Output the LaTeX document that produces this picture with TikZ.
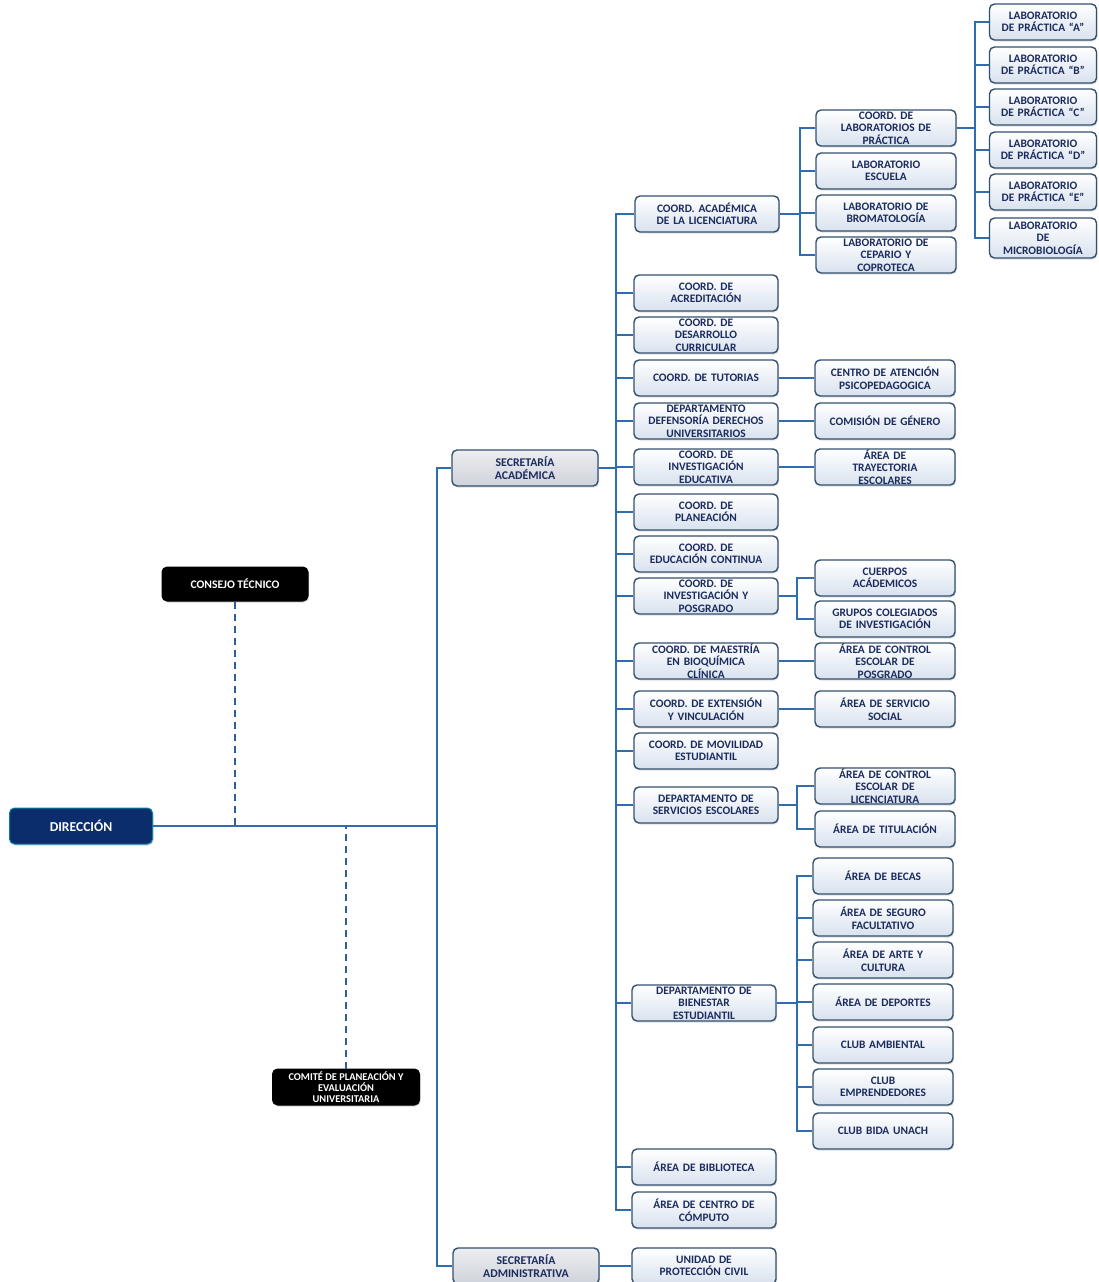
\documentclass[tikz,border=0pt]{standalone}
\usepackage{fontspec}
\setmainfont{Carlito}
\usetikzlibrary{shadows}
\definecolor{connc}{HTML}{2F6DB0}
\definecolor{navy}{HTML}{1B2B5E}
\definecolor{bordc}{HTML}{34506F}
\definecolor{dirc}{HTML}{0B2D6B}
\definecolor{lightb}{HTML}{D8E2EE}
\definecolor{grayf}{HTML}{CFD3DA}
\definecolor{dashc}{HTML}{2E5F98}
\tikzset{
  box/.style={draw=bordc, line width=1.4pt, rounded corners=5pt, top color=white, bottom color=lightb,
    text=navy, font=\fontsize{11.4}{12.5}\selectfont\bfseries, align=center, minimum height=36pt,
    inner xsep=1pt, inner ysep=0.5pt, drop shadow={opacity=0.25,shadow xshift=1pt,shadow yshift=-1.5pt}},
  lvtwo/.style={box, minimum width=144pt, text width=140pt},
  lvthree/.style={box, minimum width=140pt, text width=136pt},
  lvfour/.style={box, minimum width=107pt, text width=104pt},
  secbox/.style={box, top color=white!60!grayf, bottom color=grayf, minimum width=146pt, text width=142pt,
    font=\fontsize{11.8}{12.5}\selectfont\bfseries},
  darkbox/.style={draw=black, line width=1pt, rounded corners=5pt, fill=black, text=white,
    align=center, inner sep=0.5pt,
    drop shadow={opacity=0.3,shadow xshift=1pt,shadow yshift=-1.5pt}},
  dirbox/.style={draw=dirc!60!cyan, line width=1pt, rounded corners=5pt, fill=dirc, text=white,
    font=\fontsize{13.6}{15}\selectfont\bfseries, align=center, minimum width=143pt, minimum height=36pt,
    drop shadow={opacity=0.3,shadow xshift=1pt,shadow yshift=-1.5pt}},
  conn/.style={draw=connc, line width=2pt},
  dline/.style={draw=dashc, line width=2.5pt, dash pattern=on 7pt off 5pt}
}
\begin{document}
\begin{tikzpicture}[x=1pt,y=-1pt]
\useasboundingbox (0,0) rectangle (1099,1282);

% branch coordinates
\coordinate (b0) at (437,0);
\coordinate (b1) at (616,0);
\coordinate (b2) at (800,0);
\coordinate (b3) at (975,0);
\coordinate (b4) at (797,0);

% top level
\node[dirbox] (dir) at (81,826) {DIRECCIÓN};
\node[darkbox, minimum width=146pt, minimum height=34pt, font=\fontsize{11.6}{13}\selectfont\bfseries] (ct) at (235,584) {CONSEJO TÉCNICO};
\node[darkbox, minimum width=147pt, minimum height=36pt, font=\fontsize{10.4}{11}\selectfont\bfseries] (cp) at (346,1087) {COMITÉ DE PLANEACIÓN Y\\EVALUACIÓN\\UNIVERSITARIA};

\node[secbox] (sa) at (525,468) {SECRETARÍA\\ACADÉMICA};
\node[secbox] (sadm) at (526,1266) {SECRETARÍA\\ADMINISTRATIVA};

% level 2
\node[lvtwo] (cal) at (707,214) {COORD. ACADÉMICA\\DE LA LICENCIATURA};
\node[lvtwo] (acr) at (706,293) {COORD. DE\\ACREDITACIÓN};
\node[lvtwo] (des) at (706,335) {COORD. DE\\DESARROLLO\\CURRICULAR};
\node[lvtwo] (tut) at (706,378) {COORD. DE TUTORIAS};
\node[lvtwo] (def) at (706,421) {DEPARTAMENTO\\DEFENSORÍA DERECHOS\\UNIVERSITARIOS};
\node[lvtwo] (ied) at (706,467) {COORD. DE\\INVESTIGACIÓN\\EDUCATIVA};
\node[lvtwo] (pla) at (706,512) {COORD. DE\\PLANEACIÓN};
\node[lvtwo] (edc) at (706,554) {COORD. DE\\EDUCACIÓN CONTINUA};
\node[lvtwo] (ipo) at (706,596) {COORD. DE\\INVESTIGACIÓN Y\\POSGRADO};
\node[lvtwo] (mbc) at (706,661) {COORD. DE MAESTRÍA\\EN BIOQUÍMICA\\CLÍNICA};
\node[lvtwo] (ext) at (706,709) {COORD. DE EXTENSIÓN\\Y VINCULACIÓN};
\node[lvtwo] (mov) at (706,751) {COORD. DE MOVILIDAD\\ESTUDIANTIL};
\node[lvtwo] (dse) at (706,805) {DEPARTAMENTO DE\\SERVICIOS ESCOLARES};
\node[lvtwo] (dbe) at (704,1003) {DEPARTAMENTO DE\\BIENESTAR\\ESTUDIANTIL};
\node[lvtwo] (bib) at (704,1167) {ÁREA DE BIBLIOTECA};
\node[lvtwo] (ccp) at (704,1210) {ÁREA DE CENTRO DE\\CÓMPUTO};
\node[lvtwo] (upc) at (704,1266) {UNIDAD DE\\PROTECCIÓN CIVIL};

% level 3
\node[lvthree] (clp) at (886,128) {COORD. DE\\LABORATORIOS DE\\PRÁCTICA};
\node[lvthree] (lesc) at (886,171) {LABORATORIO\\ESCUELA};
\node[lvthree] (lbro) at (886,213) {LABORATORIO DE\\BROMATOLOGÍA};
\node[lvthree] (lcep) at (886,255) {LABORATORIO DE\\CEPARIO Y\\COPROTECA};
\node[lvthree] (cap) at (885,378) {CENTRO DE ATENCIÓN\\PSICOPEDAGOGICA};
\node[lvthree] (cge) at (885,421) {COMISIÓN DE GÉNERO};
\node[lvthree] (atr) at (885,467) {ÁREA DE\\TRAYECTORIA\\ESCOLARES};
\node[lvthree] (cac) at (885,578) {CUERPOS\\ACÁDEMICOS};
\node[lvthree] (gci) at (885,619) {GRUPOS COLEGIADOS\\DE INVESTIGACIÓN};
\node[lvthree] (acp) at (885,661) {ÁREA DE CONTROL\\ESCOLAR DE\\POSGRADO};
\node[lvthree] (ass) at (885,709) {ÁREA DE SERVICIO\\SOCIAL};
\node[lvthree] (acl) at (885,786) {ÁREA DE CONTROL\\ESCOLAR DE\\LICENCIATURA};
\node[lvthree] (ati) at (885,829) {ÁREA DE TITULACIÓN};
\node[lvthree] (abe) at (883,876) {ÁREA DE BECAS};
\node[lvthree] (asf) at (883,918) {ÁREA DE SEGURO\\FACULTATIVO};
\node[lvthree] (aac) at (883,960) {ÁREA DE ARTE Y\\CULTURA};
\node[lvthree] (ade) at (883,1002) {ÁREA DE DEPORTES};
\node[lvthree] (cam) at (883,1045) {CLUB AMBIENTAL};
\node[lvthree] (cem) at (883,1087) {CLUB\\EMPRENDEDORES};
\node[lvthree] (cbu) at (883,1131) {CLUB BIDA UNACH};

% level 4
\node[lvfour] (la) at (1043,22) {LABORATORIO\\DE PRÁCTICA “A”};
\node[lvfour] (lb) at (1043,65) {LABORATORIO\\DE PRÁCTICA “B”};
\node[lvfour] (lc) at (1043,107) {LABORATORIO\\DE PRÁCTICA “C”};
\node[lvfour] (ld) at (1043,150) {LABORATORIO\\DE PRÁCTICA “D”};
\node[lvfour] (le) at (1043,192) {LABORATORIO\\DE PRÁCTICA “E”};
\node[lvfour, minimum height=40pt] (lm) at (1043,238) {LABORATORIO\\DE\\MICROBIOLOGÍA};

% dashed staff lines
\draw[dline] (ct.south) -- (ct.south |- dir.east);
\draw[dline] (cp.north) -- (cp.north |- dir.east);

% main trunk
\draw[conn] (dir.east) -- (dir.east -| b0);
\draw[conn] (dir.east -| b0) |- (sa.west);
\draw[conn] (dir.east -| b0) |- (sadm.west);
\draw[conn] (sadm.east) -- (upc.west);

% secretaria academica trunk
\foreach \c in {cal,acr,des,tut,def,ied,pla,edc,ipo,mbc,ext,mov,dse,dbe,bib,ccp}{
  \draw[conn] (sa.east) -- (sa.east -| b1) |- (\c.west);
}

% coord academica children
\foreach \c in {clp,lesc,lbro,lcep}{
  \draw[conn] (cal.east) -- (cal.east -| b2) |- (\c.west);
}
% labs
\foreach \c in {la,lb,lc,ld,le,lm}{
  \draw[conn] (clp.east) -- (clp.east -| b3) |- (\c.west);
}

% single children
\draw[conn] (tut.east) -- (cap.west);
\draw[conn] (def.east) -- (cge.west);
\draw[conn] (ied.east) -- (atr.west);
\draw[conn] (mbc.east) -- (acp.west);
\draw[conn] (ext.east) -- (ass.west);

% multi children
\foreach \c in {cac,gci}{
  \draw[conn] (ipo.east) -- (ipo.east -| b4) |- (\c.west);
}
\foreach \c in {acl,ati}{
  \draw[conn] (dse.east) -- (dse.east -| b4) |- (\c.west);
}
\foreach \c in {abe,asf,aac,ade,cam,cem,cbu}{
  \draw[conn] (dbe.east) -- (dbe.east -| b4) |- (\c.west);
}
\end{tikzpicture}
\end{document}
